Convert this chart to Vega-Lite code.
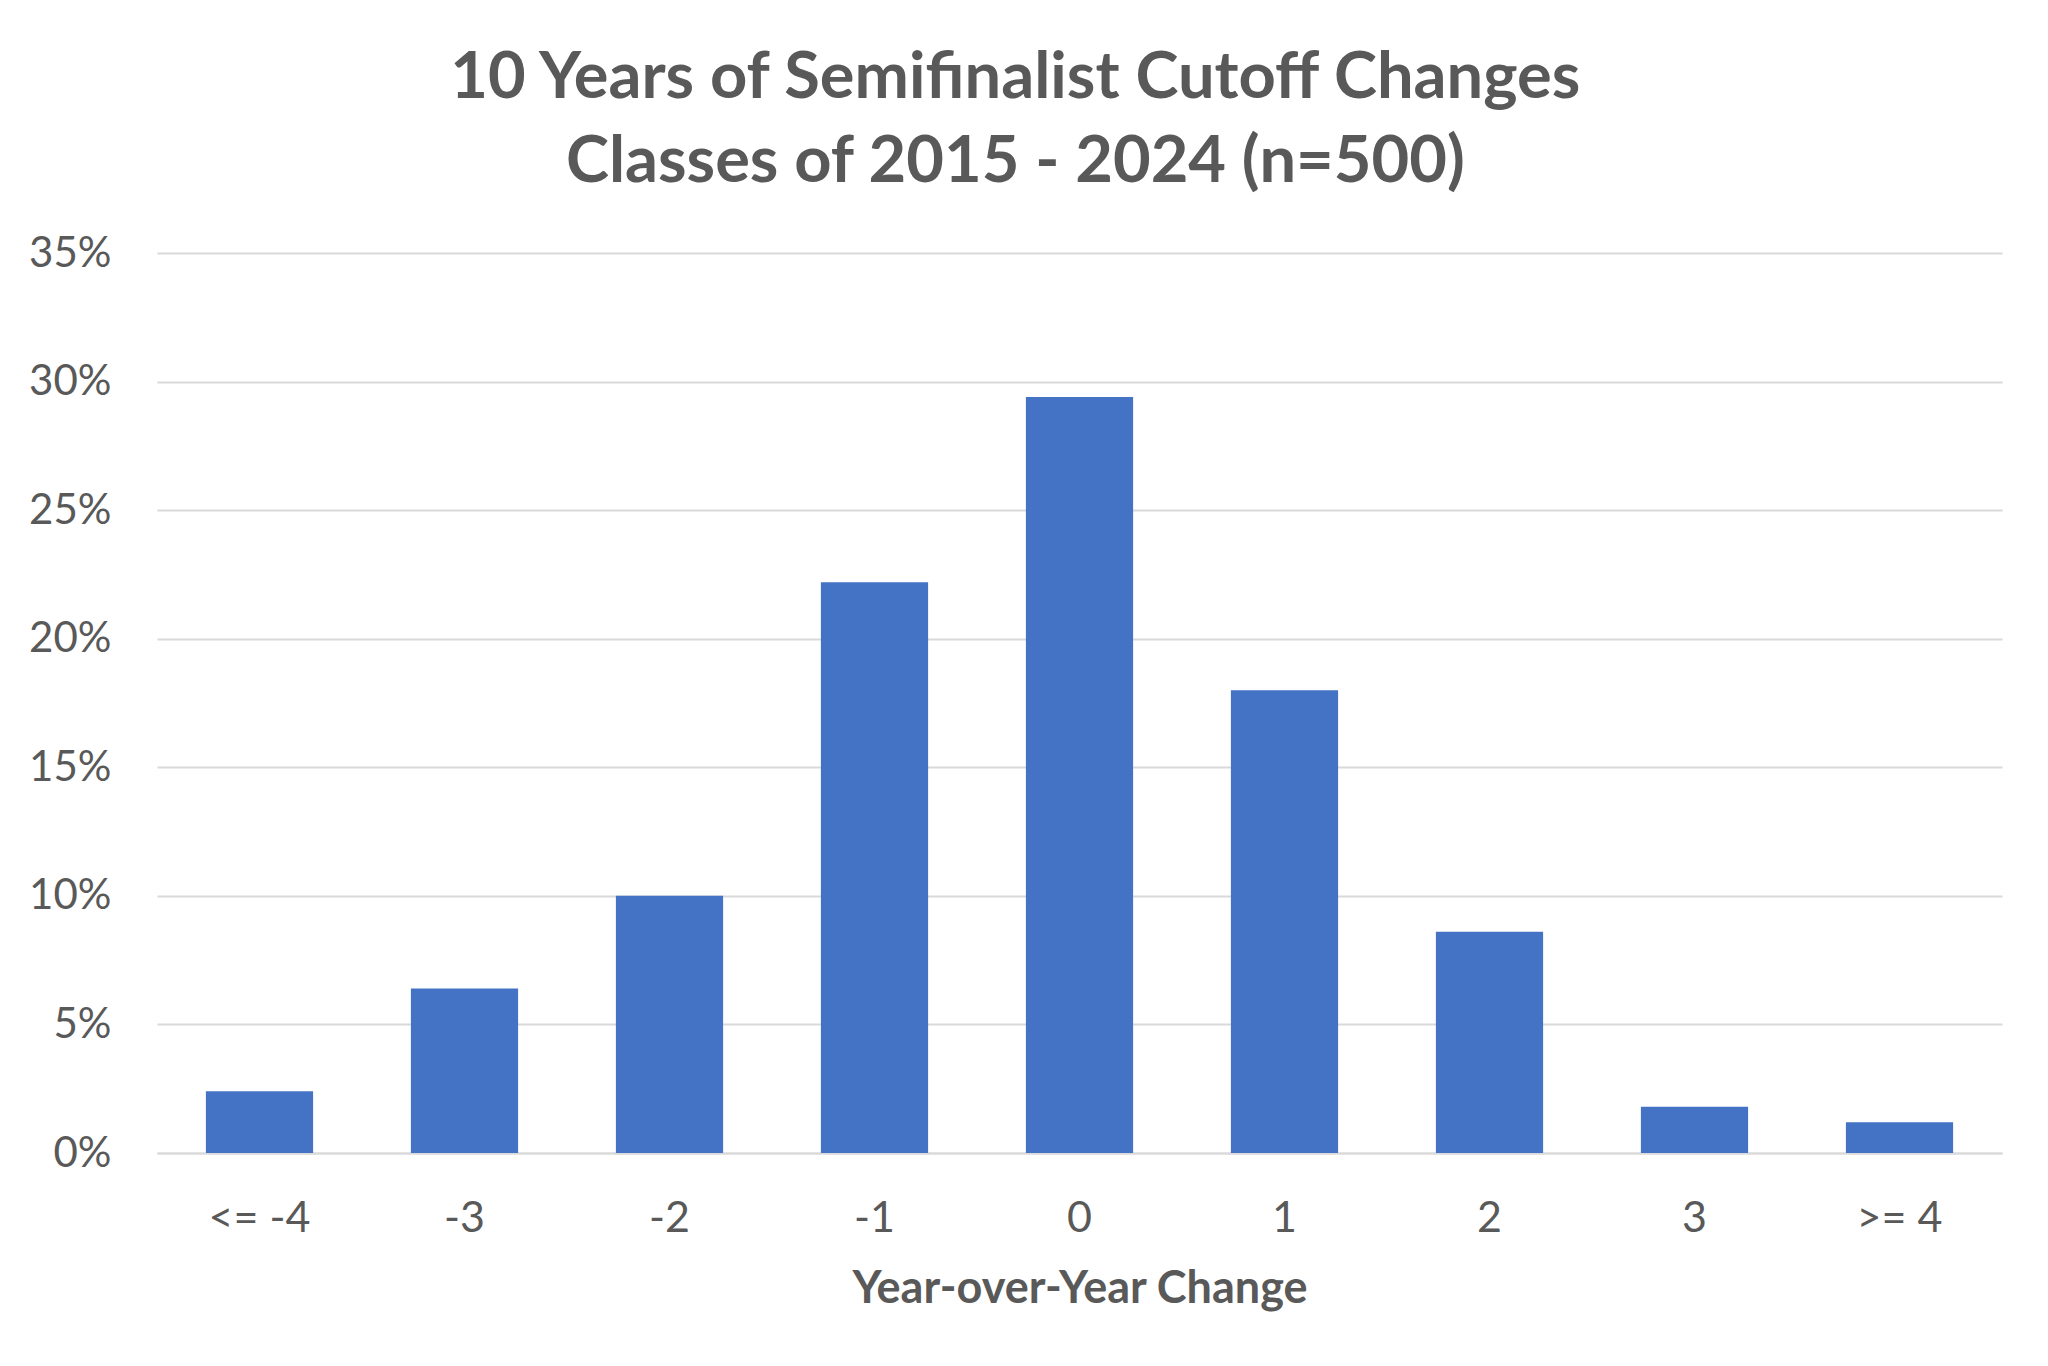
{
  "$schema": "https://vega.github.io/schema/vega-lite/v6.json",
  "autosize": {"type": "none"},
  "width": 1845,
  "height": 900,
  "padding": {"left": 157, "top": 253, "right": 46, "bottom": 213},
  "background": "white",
  "title": {
    "text": ["10 Years of Semifinalist Cutoff Changes", "Classes of 2015 - 2024 (n=500)"],
    "anchor": "middle",
    "frame": "bounds",
    "font": "Lato",
    "fontSize": 65,
    "fontWeight": "bold",
    "color": "#595959",
    "lineHeight": 84,
    "offset": 36
  },
  "data": {
    "values": [
      {"change": "<= -4", "pct": 0.024},
      {"change": "-3", "pct": 0.064},
      {"change": "-2", "pct": 0.100},
      {"change": "-1", "pct": 0.222},
      {"change": "0", "pct": 0.294},
      {"change": "1", "pct": 0.180},
      {"change": "2", "pct": 0.086},
      {"change": "3", "pct": 0.018},
      {"change": ">= 4", "pct": 0.012}
    ]
  },
  "mark": {"type": "bar", "color": "#4472C4"},
  "encoding": {
    "x": {
      "field": "change",
      "type": "ordinal",
      "sort": null,
      "scale": {"paddingInner": 0.477, "paddingOuter": 0.2385},
      "axis": {
        "title": "Year-over-Year Change",
        "labelAngle": 0,
        "labelFont": "Lato",
        "labelFontSize": 43,
        "labelColor": "#595959",
        "labelPadding": 44,
        "ticks": false,
        "domainColor": "#D9D9D9",
        "domainWidth": 2,
        "titleFont": "Lato",
        "titleFontSize": 45,
        "titleFontWeight": "bold",
        "titleColor": "#595959",
        "titlePadding": 26
      }
    },
    "y": {
      "field": "pct",
      "type": "quantitative",
      "scale": {"domain": [0, 0.35]},
      "axis": {
        "title": null,
        "format": ".0%",
        "values": [0, 0.05, 0.1, 0.15, 0.2, 0.25, 0.3, 0.35],
        "labelFont": "Lato",
        "labelFontSize": 42,
        "labelColor": "#595959",
        "labelPadding": 46,
        "ticks": false,
        "domain": false,
        "gridColor": "#D9D9D9",
        "gridWidth": 2
      }
    }
  },
  "config": {"view": {"stroke": null}}
}
